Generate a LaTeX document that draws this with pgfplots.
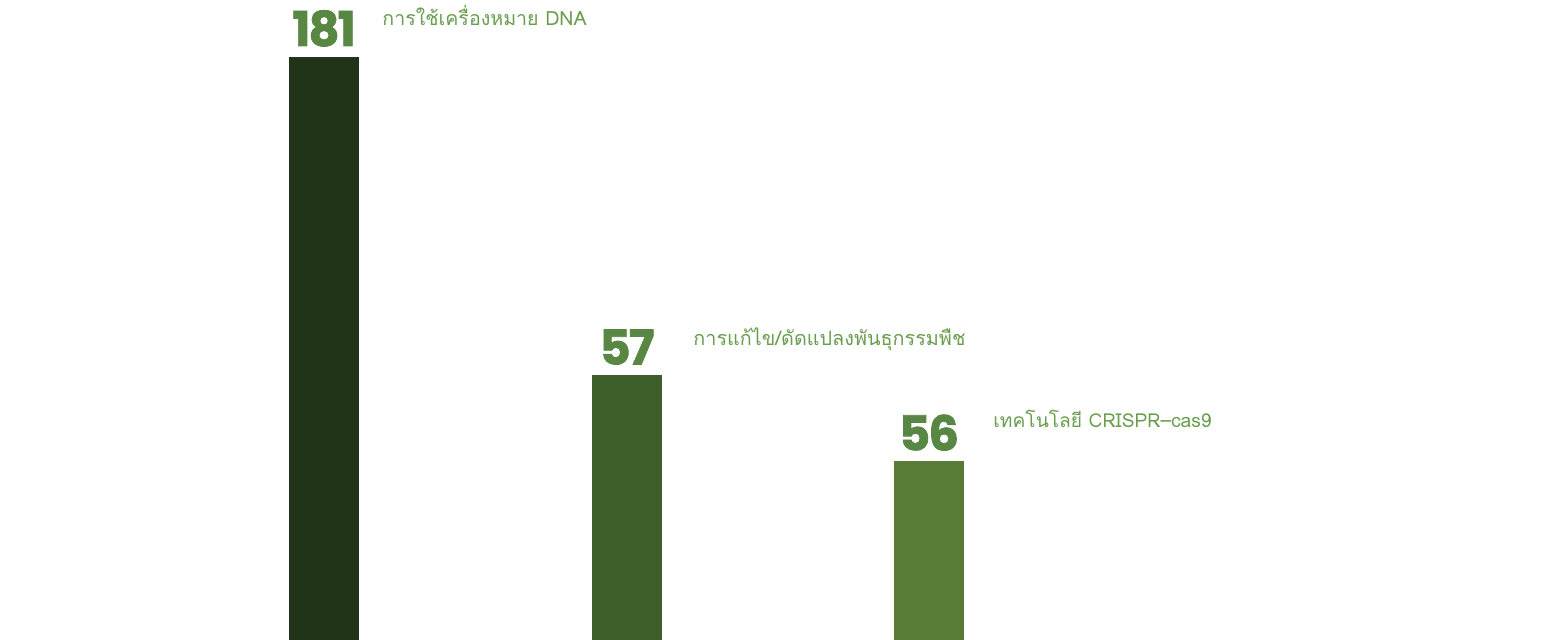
\documentclass[border=0pt]{standalone}
\usepackage{pgfplots}
\pgfplotsset{compat=1.18}
\usepackage{fontspec}
\newfontfamily\thaifont[Script=Thai]{Loma}
\newfontfamily\numfont[LetterSpace=-4, BoldFeatures={FakeBold=1.5}]{Poppins}
\definecolor{barA}{HTML}{223418}
\definecolor{barB}{HTML}{3E5E2C}
\definecolor{barC}{HTML}{587B36}
\definecolor{numcol}{HTML}{588744}
\definecolor{labcol}{HTML}{6A9E4F}
\begin{document}
\begin{tikzpicture}
\begin{axis}[
  scale only axis, width=771pt, height=320pt,
  xmin=0, xmax=1542, ymin=0, ymax=640,
  hide axis, clip=false,
  ybar, bar width=35pt, bar shift=0pt,
  nodes near coords,
  point meta=explicit symbolic,
  every node near coord/.append style={font=\numfont\bfseries\fontsize{24}{24}\selectfont, text=numcol, anchor=south, inner sep=0pt, yshift=5pt},
]
\addplot[fill=barA, draw=none] coordinates {(324,583) [181]};
\addplot[fill=barB, draw=none] coordinates {(627,265) [57]};
\addplot[fill=barC, draw=none] coordinates {(929,179) [56]};
\path (rel axis cs:0,0) rectangle (rel axis cs:1,1);
\node[anchor=base west, inner sep=0pt, text=labcol, font=\thaifont\fontsize{9.8}{10}\selectfont] at (axis cs:382,614) {การใช้เครื่องหมาย DNA};
\node[anchor=base west, inner sep=0pt, text=labcol, font=\thaifont\fontsize{9.9}{10}\selectfont] at (axis cs:693,294) {การแก้ไข/ดัดแปลงพันธุกรรมพืช};
\node[anchor=base west, inner sep=0pt, text=labcol, font=\thaifont\fontsize{9.6}{10}\selectfont] at (axis cs:993,212) {เทคโนโลยี CRISPR–cas9};
\end{axis}
\end{tikzpicture}
\end{document}
